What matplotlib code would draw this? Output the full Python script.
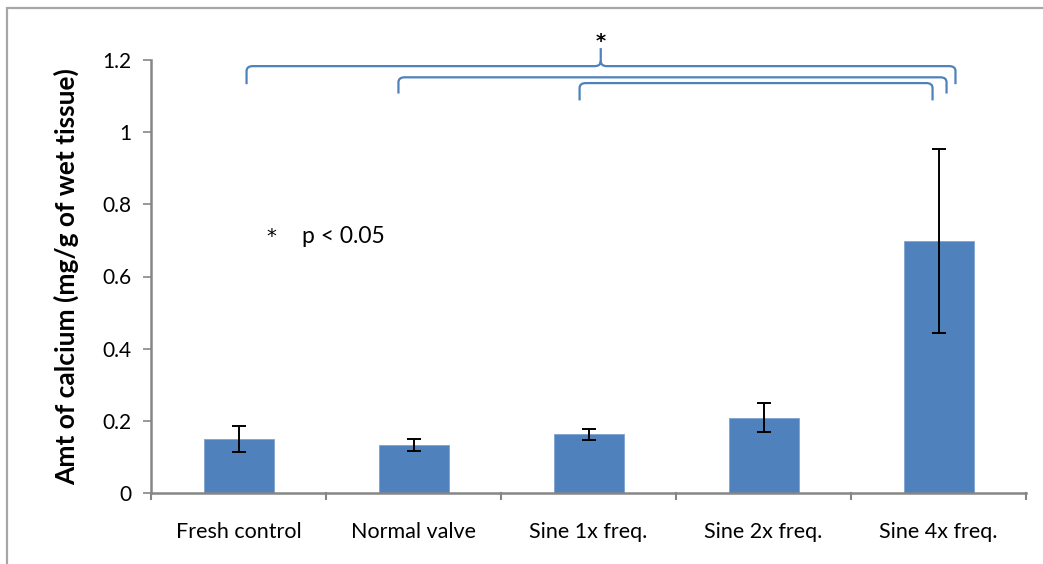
import matplotlib
matplotlib.use("Agg")
import matplotlib.pyplot as plt
from matplotlib.path import Path
from matplotlib.patches import PathPatch, Rectangle

categories = ["Fresh control", "Normal valve", "Sine 1x freq.", "Sine 2x freq.", "Sine 4x freq."]
calcium = [0.15, 0.133, 0.163, 0.209, 0.698]
calcium_err = [0.035, 0.016, 0.015, 0.040, 0.255]
y_ticks = [0, 0.2, 0.4, 0.6, 0.8, 1.0, 1.2]
y_tick_labels = ["0", "0.2", "0.4", "0.6", "0.8", "1", "1.2"]

BAR = "#4F81BD"
AXIS = "#868686"
FONT = ["Lato", "DejaVu Sans"]
STAR_FONT = ["DejaVu Sans"]

plt.rcParams["font.family"] = FONT

fig = plt.figure(figsize=(10.43, 5.64), dpi=100)
ax = fig.add_axes([151 / 1043, 71 / 564, 875 / 1043, 433 / 564])

x = list(range(len(categories)))
ax.bar(x, calcium, width=0.4, color=BAR, edgecolor="#7FA3D0", linewidth=0.6, zorder=2)
ax.errorbar(x, calcium, yerr=calcium_err, fmt="none", ecolor="black",
            elinewidth=1.4, capsize=5, capthick=1.4, zorder=3)

ax.set_xlim(-0.5, len(categories) - 0.5)
ax.set_ylim(0, 1.2)
ax.set_yticks(y_ticks)
ax.set_yticklabels(y_tick_labels, fontsize=15)
ax.set_xticks(x)
ax.set_xticklabels(categories, fontsize=15.5)
ax.tick_params(axis="x", length=0, pad=21)
ax.tick_params(axis="y", length=6, width=1.2, color=AXIS, pad=8)

# category separators below the x-axis
for b in [i - 0.5 for i in range(len(categories) + 1)]:
    ax.plot([b, b], [0, -0.018], color=AXIS, lw=1.5, clip_on=False, zorder=4)

for side in ["top", "right"]:
    ax.spines[side].set_visible(False)
for side in ["left", "bottom"]:
    ax.spines[side].set_color(AXIS)
    ax.spines[side].set_linewidth(1.8)

ax.set_ylabel("Amt of calcium (mg/g of wet tissue)", fontsize=19,
              fontweight="bold", labelpad=17)


def bracket(x0, x1, y, drop, peak=None, rx=0.035, ry=0.014):
    verts = [(x0, y - drop), (x0, y - ry), (x0, y), (x0 + rx, y)]
    codes = [Path.MOVETO, Path.LINETO, Path.CURVE3, Path.CURVE3]
    if peak is not None:
        xm, h = peak
        verts += [(xm - rx, y), (xm, y), (xm, y + ry), (xm, y + h)]
        codes += [Path.LINETO, Path.CURVE3, Path.CURVE3, Path.LINETO]
        verts += [(xm, y + ry), (xm, y), (xm + rx, y)]
        codes += [Path.MOVETO, Path.CURVE3, Path.CURVE3]
    verts += [(x1 - rx, y), (x1, y), (x1, y - ry), (x1, y - drop)]
    codes += [Path.LINETO, Path.CURVE3, Path.CURVE3, Path.LINETO]
    patch = PathPatch(Path(verts, codes), facecolor="none", edgecolor=BAR,
                      lw=1.6, clip_on=False, zorder=5)
    ax.add_patch(patch)


bracket(0.046, 4.097, 1.183, 0.05, peak=(2.07, 0.05))
bracket(0.914, 4.046, 1.152, 0.045)
bracket(1.949, 3.966, 1.136, 0.048)
ax.text(2.07, 1.226, "*", ha="center", va="bottom", fontsize=14,
        fontweight="bold", family=STAR_FONT, color="black", clip_on=False)

ax.text(0.19, 0.712, "*", ha="center", va="center", fontsize=14,
        family=STAR_FONT, color="black")
ax.text(0.36, 0.712, "p < 0.05", ha="left", va="center", fontsize=16.5, color="black")

# chart frame
fig.patches.append(Rectangle((7 / 1043, -0.05), 1.1, (560 - 4) / 564 + 0.05,
                             transform=fig.transFigure, fill=False,
                             edgecolor="#A6A6A6", lw=1.6))

fig.savefig("out.png", dpi=100)
